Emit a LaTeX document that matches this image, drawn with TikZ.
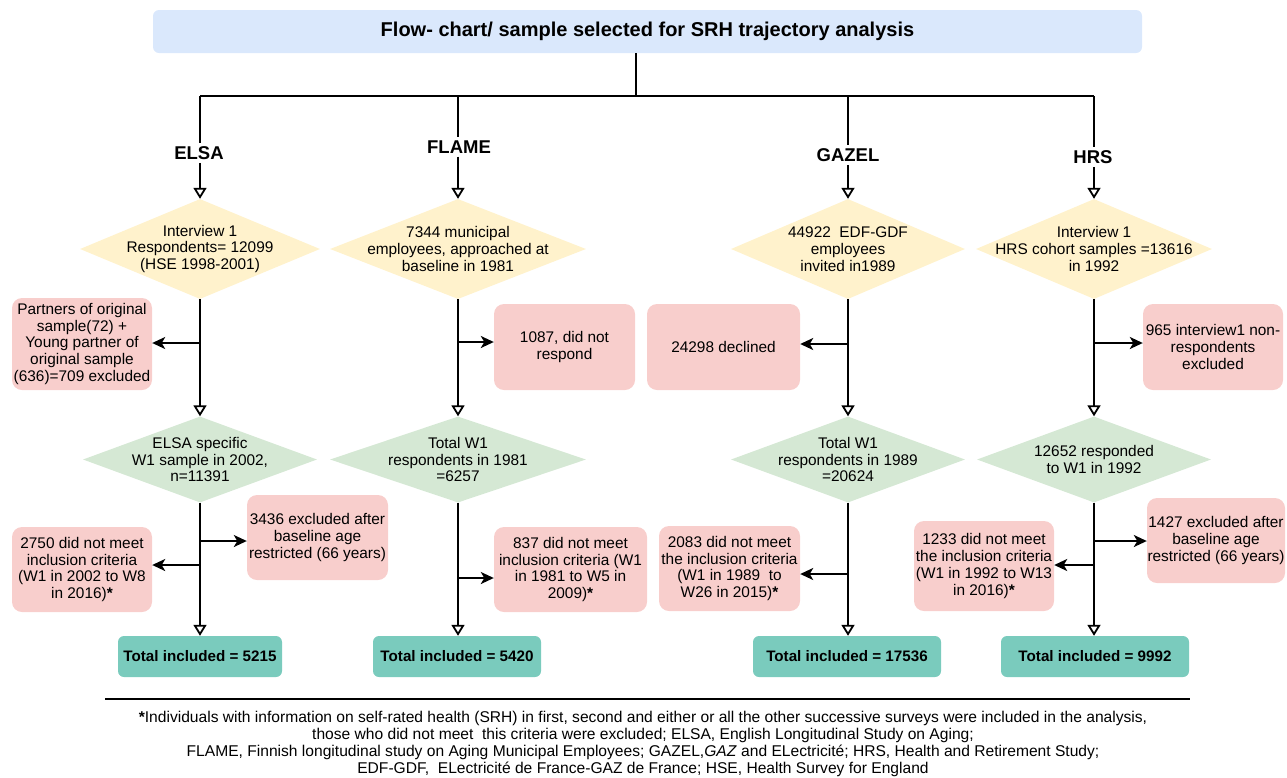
\documentclass[tikz,border=0pt]{standalone}
\usepackage{fontspec}
\setmainfont{Liberation Sans}
\usetikzlibrary{shapes.geometric,arrows.meta}
\definecolor{ttlblue}{HTML}{DAE8FC}
\definecolor{ylw}{HTML}{FFF2CC}
\definecolor{grn}{HTML}{D5E8D4}
\definecolor{rd}{HTML}{F8CECC}
\definecolor{tealbox}{RGB}{122,203,189}
\tikzset{
 conn/.style={line width=2pt},
 downarr/.style={conn, -{Triangle[open,length=11pt,width=13pt,line width=1.8pt]}},
 sidearr/.style={conn, -{Stealth[length=13pt,width=12pt,inset=3.5pt]}},
 body/.style={font=\fontsize{15.4}{16.7}\selectfont, align=center},
 exbox/.style={body, fill=rd, rounded corners=10pt, inner sep=0pt},
 ydiam/.style={diamond, fill=ylw, inner sep=0pt},
 gdiam/.style={diamond, fill=grn, inner sep=0pt},
 dtext/.style={body, inner sep=0pt},
 totbox/.style={fill=tealbox, rounded corners=6pt, font=\fontsize{15.2}{18}\selectfont\bfseries, inner sep=0pt, minimum height=41pt},
 lab/.style={font=\fontsize{18.5}{20}\selectfont\bfseries, inner sep=3pt},
}
\begin{document}
\begin{tikzpicture}[x=1pt,y=-1pt]
\useasboundingbox (0,0) rectangle (1287,777);
% title
\node[fill=ttlblue, rounded corners=6pt, minimum width=989pt, minimum height=43pt, inner sep=0pt,
      font=\fontsize{20}{22}\selectfont\bfseries] (title) at (647.5,31.5) {Flow- chart/ sample selected for SRH trajectory analysis};
\coordinate (tb) at (636,96);
\coordinate (bE) at (200,96);
\coordinate (bF) at (458,96);
\coordinate (bG) at (848,96);
\coordinate (bH) at (1094,96);
\draw[conn] (title.south -| tb) -- (tb);
\draw[conn] (bE) -- (bH);
% labels
\node[lab] (elsa) at (199,153) {ELSA};
\node[lab] (flame) at (459,147) {FLAME};
\node[lab] (gazel) at (848,155) {GAZEL};
\node[lab] (hrs) at (1093,157) {HRS};
\draw[conn] (bE) -- (elsa.north -| bE);
\draw[conn] (bF) -- (flame.north -| bF);
\draw[conn] (bG) -- (gazel.north -| bG);
\draw[conn] (bH) -- (hrs.north -| bH);
% first diamonds
\node[ydiam, minimum width=240pt, minimum height=100pt] (d1e) at (200,249) {};
\node[dtext] (t1e) at (d1e) {Interview 1\\Respondents= 12099\\(HSE 1998-2001)};
\node[ydiam, minimum width=256pt, minimum height=100pt] (d1f) at (458,249) {};
\node[dtext] (t1f) at (d1f) {7344 municipal\\employees, approached at\\baseline in 1981};
\node[ydiam, minimum width=234pt, minimum height=100pt] (d1g) at (848,249) {};
\node[dtext] (t1g) at (d1g) {44922\ \ EDF-GDF\\employees\\invited in1989};
\node[ydiam, minimum width=236pt, minimum height=100pt] (d1h) at (1094,249) {};
\node[dtext] (t1h) at (d1h) {Interview 1\\HRS cohort samples =13616\\in 1992};
\draw[downarr] (elsa.south -| bE) -- (d1e.north);
\draw[downarr] (flame.south -| bF) -- (d1f.north);
\draw[downarr] (gazel.south -| bG) -- (d1g.north);
\draw[downarr] (hrs.south -| bH) -- (d1h.north);
% first exclusion boxes
\node[exbox, minimum width=140pt, minimum height=92pt] (e1) at (82,344) {Partners of original\\sample(72) +\\Young partner of\\original sample\\(636)=709 excluded};
\node[exbox, minimum width=141pt, minimum height=86pt] (f1) at (564.5,347) {1087, did not\\respond};
\node[exbox, minimum width=153pt, minimum height=86pt] (g1) at (723.5,347) {24298 declined};
\node[exbox, minimum width=140pt, minimum height=86pt] (h1) at (1213,347) {965 interview1 non-\\respondents\\excluded};
% second diamonds
\node[gdiam, minimum width=234pt, minimum height=86pt] (d2e) at (200,459.5) {};
\node[dtext] (t2e) at (d2e) {ELSA specific\\W1 sample in 2002,\\n=11391};
\node[gdiam, minimum width=256pt, minimum height=86pt] (d2f) at (458,459.5) {};
\node[dtext] (t2f) at (d2f) {Total W1\\respondents in 1981\\=6257};
\node[gdiam, minimum width=234pt, minimum height=86pt] (d2g) at (848,459.5) {};
\node[dtext] (t2g) at (d2g) {Total W1\\respondents in 1989\\=20624};
\node[gdiam, minimum width=234pt, minimum height=86pt] (d2h) at (1094,459.5) {};
\node[dtext] (t2h) at (d2h) {12652 responded\\to W1 in 1992};
\draw[downarr] (d1e.south) -- (d2e.north);
\draw[downarr] (d1f.south) -- (d2f.north);
\draw[downarr] (d1g.south) -- (d2g.north);
\draw[downarr] (d1h.south) -- (d2h.north);
\coordinate (je1) at (200,343);
\coordinate (jf1) at (458,342);
\coordinate (jg1) at (848,344);
\coordinate (jh1) at (1094,343);
\draw[sidearr] (je1) -- (je1 -| e1.east);
\draw[sidearr] (jf1) -- (jf1 -| f1.west);
\draw[sidearr] (jg1) -- (jg1 -| g1.east);
\draw[sidearr] (jh1) -- (jh1 -| h1.west);
% second exclusion boxes
\node[exbox, minimum width=140pt, minimum height=85pt] (e2) at (82,569.5) {2750 did not meet\\inclusion criteria\\(W1 in 2002 to W8\\in 2016)\textbf{*}};
\node[exbox, minimum width=141pt, minimum height=85pt] (e3) at (317.5,537.5) {3436 excluded after\\baseline age\\restricted (66 years)};
\node[exbox, minimum width=153pt, minimum height=85pt] (f2) at (570.5,569.5) {837 did not meet\\inclusion criteria (W1\\in 1981 to W5 in\\2009)\textbf{*}};
\node[exbox, minimum width=141pt, minimum height=85pt] (g2) at (729.5,568.5) {2083 did not meet\\the inclusion criteria\\(W1 in 1989\ \ to\\W26 in 2015)\textbf{*}};
\node[exbox, minimum width=140pt, minimum height=90pt] (h2) at (984,566) {1233 did not meet\\the inclusion criteria\\(W1 in 1992 to W13\\in 2016)\textbf{*}};
\node[exbox, minimum width=138pt, minimum height=85pt] (h3) at (1216,540.5) {1427 excluded after\\baseline age\\restricted (66 years)};
\coordinate (je2) at (200,565);
\coordinate (je3) at (200,541);
\coordinate (jf2) at (458,578);
\coordinate (jg2) at (848,574);
\coordinate (jh2) at (1094,565);
\coordinate (jh3) at (1094,541);
\draw[sidearr] (je2) -- (je2 -| e2.east);
\draw[sidearr] (je3) -- (je3 -| e3.west);
\draw[sidearr] (jf2) -- (jf2 -| f2.west);
\draw[sidearr] (jg2) -- (jg2 -| g2.east);
\draw[sidearr] (jh2) -- (jh2 -| h2.east);
\draw[sidearr] (jh3) -- (jh3 -| h3.west);
% totals
\node[totbox, minimum width=164pt] (te) at (200,656.5) {Total included = 5215};
\node[totbox, minimum width=168pt] (tf) at (457,656.5) {Total included = 5420};
\node[totbox, minimum width=188pt] (tg) at (847,656.5) {Total included = 17536};
\node[totbox, minimum width=188pt] (th) at (1095,656.5) {Total included = 9992};
\draw[downarr] (d2e.south) -- (te.north -| d2e.south);
\draw[downarr] (d2f.south) -- (tf.north -| d2f.south);
\draw[downarr] (d2g.south) -- (tg.north -| d2g.south);
\draw[downarr] (d2h.south) -- (th.north -| d2h.south);
% footnote
\draw[line width=2.2pt] (105,699) -- (1190,699);
\node[font=\fontsize{15.6}{17}\selectfont, align=center, inner sep=0pt] (foot) at (643,744) {\textbf{*}Individuals with information on self-rated health (SRH) in first, second and either or all the other successive surveys were included in the analysis,\\those who did not meet\ \ this criteria were excluded; ELSA, English Longitudinal Study on Aging;\\FLAME, Finnish longitudinal study on Aging Municipal Employees; GAZEL,\textit{GAZ} and ELectricité; HRS, Health and Retirement Study;\\EDF-GDF,\ \ ELectricité de France-GAZ de France; HSE, Health Survey for England};
\end{tikzpicture}
\end{document}
